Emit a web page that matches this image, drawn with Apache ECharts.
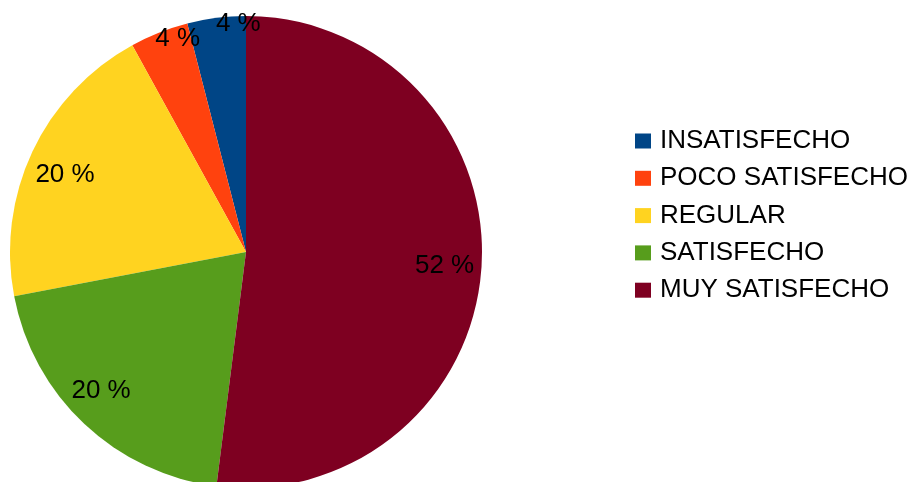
<!DOCTYPE html>
<html>
<head>
<meta charset="utf-8">
<script src="https://cdn.jsdelivr.net/npm/echarts@6/dist/echarts.min.js"></script>
<style>
  html, body { margin: 0; padding: 0; background: #ffffff; }
  #chart { width: 914px; height: 482px; }
</style>
</head>
<body>
<div id="chart"></div>
<script>
// Survey satisfaction shares (percent)
const categories = ['INSATISFECHO', 'POCO SATISFECHO', 'REGULAR', 'SATISFECHO', 'MUY SATISFECHO'];
const shares = [4, 4, 20, 20, 52];

// Styling
const colors = ['#004586', '#ff420e', '#ffd320', '#579d1c', '#7e0021'];
const FONT = '"Liberation Sans", Arial, sans-serif';
const FONT_SIZE = 26;
const CENTER = [246, 252];
const R = 236;
// Narrow slices carry their label out near the rim; small nudges per label
const labelOnRim = { 'INSATISFECHO': true, 'POCO SATISFECHO': true };
const labelNudge = {
  'INSATISFECHO': [21, -1],
  'POCO SATISFECHO': [16, 0],
  'REGULAR': [0, 8],
  'SATISFECHO': [-8, -7],
  'MUY SATISFECHO': [-1, 1]
};

const sliceData = categories.map((name, i) => ({
  name, value: shares[i], itemStyle: { color: colors[i] }
}));

function labelRing(rim) {
  return categories.map((name, i) => ({
    name,
    value: shares[i],
    label: {
      show: !!labelOnRim[name] === rim,
      offset: labelNudge[name]
    }
  }));
}

const ringBase = {
  type: 'pie',
  center: CENTER,
  startAngle: 90,
  clockwise: false,
  silent: true,
  animation: false,
  itemStyle: { color: 'rgba(0,0,0,0)', borderWidth: 0 },
  emphasis: { disabled: true },
  labelLine: { show: false },
  label: {
    position: 'inside',
    formatter: '{c} %',
    color: '#000000',
    fontFamily: FONT,
    fontSize: FONT_SIZE
  }
};

const chart = echarts.init(document.getElementById('chart'), null, { renderer: 'canvas' });
chart.setOption({
  backgroundColor: '#ffffff',
  animation: false,
  legend: {
    orient: 'vertical',
    left: 635,
    top: 128,
    padding: 0,
    icon: 'rect',
    itemWidth: 16,
    itemHeight: 15,
    itemGap: 11.3,
    textStyle: { fontFamily: FONT, fontSize: FONT_SIZE, color: '#000000', lineHeight: 26, padding: [0, 0, 0, 4] },
    selectedMode: false,
    data: categories.map((name, i) => ({ name, itemStyle: { color: colors[i] } }))
  },
  series: [
    {
      type: 'pie',
      name: 'slices',
      center: CENTER,
      radius: [0, R],
      startAngle: 90,
      clockwise: false,
      silent: true,
      animation: false,
      label: { show: false },
      labelLine: { show: false },
      itemStyle: { borderWidth: 0 },
      data: sliceData
    },
    Object.assign({}, ringBase, { name: 'labels-wide', radius: [158, R], data: labelRing(false) }),
    Object.assign({}, ringBase, { name: 'labels-rim', radius: [216, R], data: labelRing(true) })
  ]
});
</script>
</body>
</html>
